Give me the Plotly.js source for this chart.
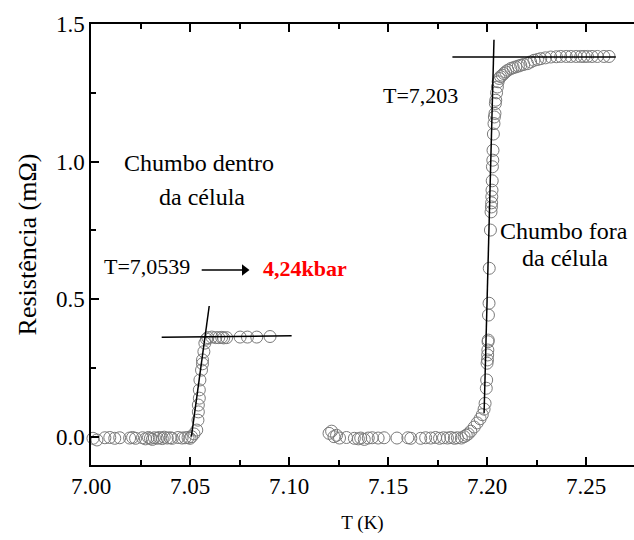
<!DOCTYPE html>
<html>
<head>
<meta charset="utf-8">
<script src="https://cdn.plot.ly/plotly-3.0.1.min.js"></script>
<style>
html,body{margin:0;padding:0;background:#fff;}
#chart .main-svg text{font-family:'Liberation Serif','Times New Roman',serif !important;}
</style>
</head>
<body>
<div id="chart" style="width:634px;height:540px"></div>
<script>
// Sample inside the cell (lead), low-T transition
const insideT = [7.0010, 7.0030, 7.0070, 7.0095, 7.0120, 7.0145, 7.0195, 7.0210, 7.0225, 7.0260, 7.0275, 7.0290, 7.0300, 7.0310, 7.0320, 7.0335, 7.0345, 7.0360, 7.0370, 7.0385, 7.0400, 7.0410, 7.0440, 7.0460, 7.0475, 7.0490, 7.0500, 7.0508,
  7.0520, 7.0534, 7.0540, 7.0542, 7.0542, 7.0547, 7.0547, 7.0550, 7.0558, 7.0563, 7.0563, 7.0570, 7.0575, 7.0583,
  7.0590, 7.0610, 7.0630, 7.0645, 7.0660, 7.0670, 7.0685, 7.0753, 7.0790, 7.0837, 7.0904];
const insideR = [-0.006, -0.012, -0.004, -0.003, -0.006, -0.004, -0.005, -0.003, -0.006, -0.004, -0.008, -0.003, -0.006, -0.010, -0.004, -0.006, -0.003, -0.007, -0.002, -0.005, -0.004, -0.006, -0.003, -0.005, -0.004, -0.003, -0.006, 0.000,
  0.010, 0.024, 0.060, 0.090, 0.115, 0.140, 0.170, 0.206, 0.242, 0.265, 0.279, 0.309, 0.340, 0.355,
  0.360, 0.362, 0.360, 0.360, 0.361, 0.359, 0.360, 0.362, 0.362, 0.362, 0.364];

// Sample outside the cell
const outsideT = [7.1202, 7.1215, 7.1227, 7.1240, 7.1255, 7.1290, 7.1330, 7.1350, 7.1362, 7.1380, 7.1400, 7.1420, 7.1450, 7.1480, 7.1545, 7.1600, 7.1615, 7.1665, 7.1690, 7.1716, 7.1740, 7.1760, 7.1780, 7.1800, 7.1817, 7.1835, 7.1850, 7.1870, 7.1884, 7.1895, 7.1905, 7.1918, 7.1935, 7.1950, 7.1965, 7.1976,
  7.1985, 7.1990, 7.1996, 7.1998, 7.2000, 7.2002, 7.2003, 7.2004, 7.2005, 7.2006, 7.2007, 7.2010, 7.2011, 7.2017, 7.2020, 7.2022, 7.2023, 7.2024, 7.2025, 7.2026, 7.2027, 7.2029, 7.2030, 7.2032,
  7.2035, 7.2037, 7.2040, 7.2042, 7.2044, 7.2048, 7.2052, 7.2056, 7.2061, 7.2068, 7.2077, 7.2085, 7.2094, 7.2105, 7.2120, 7.2132, 7.2145, 7.2158, 7.2170, 7.2185, 7.2204, 7.2220, 7.2237, 7.2255, 7.2271, 7.2295, 7.2322, 7.2350, 7.2372, 7.2400, 7.2423, 7.2450, 7.2473, 7.2490, 7.2507, 7.2530, 7.2557, 7.2590, 7.2616];
const outsideR = [0.012, 0.020, 0.000, 0.005, -0.005, -0.003, -0.006, -0.008, -0.005, -0.010, -0.005, -0.004, -0.005, -0.004, -0.005, -0.004, -0.006, -0.006, -0.004, -0.005, -0.003, -0.006, -0.004, -0.005, -0.003, -0.006, -0.004, -0.005, 0.000, 0.005, 0.010, 0.020, 0.035, 0.050, 0.065, 0.080,
  0.100, 0.121, 0.176, 0.206, 0.267, 0.279, 0.297, 0.315, 0.345, 0.351, 0.442, 0.485, 0.612, 0.751, 0.817, 0.835, 0.850, 0.872, 0.896, 0.930, 0.981, 1.005, 1.041, 1.100,
  1.138, 1.162, 1.175, 1.211, 1.223, 1.250, 1.271, 1.290, 1.302, 1.309, 1.314, 1.320, 1.326, 1.332, 1.338, 1.341, 1.344, 1.347, 1.350, 1.353, 1.356, 1.362, 1.368, 1.371, 1.374, 1.377, 1.380, 1.381, 1.382, 1.382, 1.382, 1.382, 1.382, 1.382, 1.382, 1.382, 1.382, 1.382, 1.382];

// Tangent construction lines
const fitInHorizT = [7.0357, 7.1013];
const fitInHorizR = [0.361, 0.367];
const fitInVertT = [7.0507, 7.0597];
const fitInVertR = [0.000, 0.475];
const fitOutHorizT = [7.1825, 7.2650];
const fitOutHorizR = [1.380, 1.380];
const fitOutVertT = [7.1985, 7.2035];
const fitOutVertR = [0.085, 1.443];

// Arrow pointing to the pressure label
const arrowT = [7.0559, 7.0775];
const arrowR = [0.6055, 0.6055];
const arrowHeadT = [7.0775];
const arrowHeadR = [0.6055];

const xTickVals = [7.00, 7.05, 7.10, 7.15, 7.20, 7.25];
const yTickVals = [0.0, 0.5, 1.0, 1.5];

const FAM = 'Liberation Serif';
function markerStyle() { return {symbol: 'circle', size: 12, color: 'rgba(255,255,255,0)', line: {color: '#7a7a7a', width: 1}}; }
function fitLine() { return {color: '#000', width: 1.5}; }

const traces = [
  {x: insideT, y: insideR, mode: 'markers', type: 'scatter', marker: markerStyle(), cliponaxis: false},
  {x: outsideT, y: outsideR, mode: 'markers', type: 'scatter', marker: markerStyle(), cliponaxis: false},
  {x: fitInHorizT, y: fitInHorizR, mode: 'lines', type: 'scatter', line: fitLine()},
  {x: fitInVertT, y: fitInVertR, mode: 'lines', type: 'scatter', line: fitLine()},
  {x: fitOutHorizT, y: fitOutHorizR, mode: 'lines', type: 'scatter', line: fitLine()},
  {x: fitOutVertT, y: fitOutVertR, mode: 'lines', type: 'scatter', line: fitLine()},
  {x: arrowT, y: arrowR, mode: 'lines', type: 'scatter', line: fitLine()},
  {x: arrowHeadT, y: arrowHeadR, mode: 'markers', type: 'scatter', marker: {symbol: 'triangle-right', size: 10, color: '#000'}}
];

function txt(text, x, y, size, color) {
  return {text: text, x: x, y: y, xref: 'x', yref: 'y', showarrow: false,
    font: {family: FAM, size: size, color: color || '#000'}};
}

const layout = {
  width: 634, height: 540,
  margin: {l: 91, r: 0, t: 24, b: 75},
  paper_bgcolor: '#fff', plot_bgcolor: '#fff', showlegend: false,
  xaxis: {
    range: [7.0, 7.2742], tickvals: xTickVals, tickformat: '.2f',
    ticks: 'inside', ticklen: 8, tickwidth: 1.5, tickcolor: '#000',
    showline: true, linewidth: 1.5, linecolor: '#000', mirror: 'ticks',
    showgrid: false, zeroline: false,
    minor: {dtick: 0.025, tick0: 7.0, ticks: 'inside', ticklen: 5, tickwidth: 1.5, tickcolor: '#000', showgrid: false},
    tickfont: {family: FAM, size: 23, color: '#000'},
    title: {text: 'T (K)', font: {family: FAM, size: 19, color: '#000'}, standoff: 17}
  },
  yaxis: {
    range: [-0.103, 1.5], tickvals: yTickVals, tickformat: '.1f',
    ticks: 'inside', ticklen: 8, tickwidth: 1.5, tickcolor: '#000',
    showline: true, linewidth: 1.5, linecolor: '#000',
    showgrid: false, zeroline: false,
    minor: {dtick: 0.25, tick0: 0, ticks: 'inside', ticklen: 5, tickwidth: 1.5, tickcolor: '#000', showgrid: false},
    tickfont: {family: FAM, size: 23, color: '#000'},
    title: {text: 'Resistência (mΩ)', font: {family: FAM, size: 26, color: '#000'}, standoff: 12}
  },
  annotations: [
    txt('Chumbo dentro', 7.0545, 0.993, 24),
    txt('da célula', 7.0561, 0.871, 24),
    txt('T=7,0539', 7.0285, 0.619, 22),
    txt('<b>4,24kbar</b>', 7.1081, 0.612, 22, '#ff0000'),
    txt('T=7,203', 7.1664, 1.241, 22),
    txt('Chumbo fora', 7.2389, 0.748, 24),
    txt('da célula', 7.2394, 0.648, 24)
  ]
};

Plotly.newPlot('chart', traces, layout, {displayModeBar: false});
</script>
</body>
</html>
